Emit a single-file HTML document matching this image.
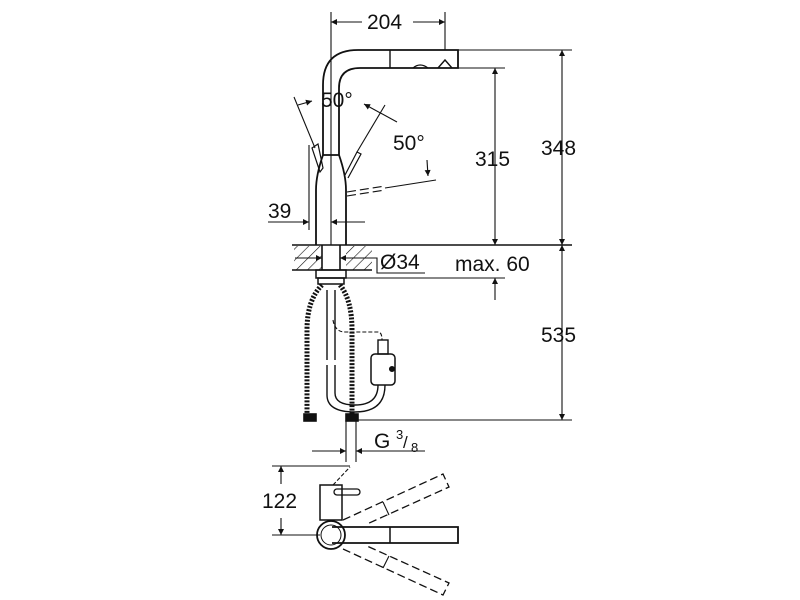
<!DOCTYPE html>
<html><head><meta charset="utf-8"><style>
html,body{margin:0;padding:0;background:#fff;}
svg{display:block}
text{font-family:"Liberation Sans",sans-serif;fill:#111}
</style></head><body>
<svg width="800" height="600" viewBox="0 0 800 600" xmlns="http://www.w3.org/2000/svg">
<defs>
<marker id="a" viewBox="0 0 10 10" refX="10" refY="5" markerWidth="11" markerHeight="6" orient="auto-start-reverse" markerUnits="userSpaceOnUse"><path d="M0,0 L10,5 L0,10z" fill="#111"/></marker>
<pattern id="h" width="8" height="8" patternUnits="userSpaceOnUse" patternTransform="rotate(45)"><line x1="0" y1="0" x2="0" y2="8" stroke="#111" stroke-width="1.2"/></pattern>
</defs>
<g stroke="#111" stroke-width="1.1" fill="none">
<line x1="331" y1="12" x2="331" y2="245"/>
<line x1="445" y1="12" x2="445" y2="50"/>
<line x1="331" y1="22" x2="362" y2="22" marker-start="url(#a)"/>
<line x1="413" y1="22" x2="445" y2="22" marker-end="url(#a)"/>
<path d="M323,155 L323,85 Q323,50 358,50 L458,50 L458,68 L360,68 Q339,68 339,88 L339,155" stroke-width="1.8"/>
<line x1="390" y1="50" x2="390" y2="68" stroke-width="1.4"/>
<path d="M438,68 L445,60 L452,68" stroke-width="1.4"/>
<path d="M413,68 Q420,62 428,68" stroke-width="1.2"/>
<line x1="458" y1="50" x2="572" y2="50"/>
<line x1="445" y1="68" x2="505" y2="68"/>
<path d="M323,155 L339,155 M323,155 Q316,175 316,190 L316,245 M339,155 Q346,175 346,190 L346,245" stroke-width="1.8"/>
<path d="M312,148 L318,144 L323,168 L320,172z" stroke-width="1.2"/>
<line x1="294" y1="97" x2="315" y2="148"/>
<path d="M345,175 L357,152 L361,154 L348,178" stroke-width="1.2"/>
<line x1="357" y1="152" x2="385" y2="105"/>
<path d="M347,192 L385,186 M347,196 L385,190" stroke-dasharray="9,4"/>
<line x1="385" y1="188" x2="436" y2="180"/>
<line x1="298" y1="105" x2="312" y2="101" marker-end="url(#a)"/>
<line x1="364" y1="104" x2="397" y2="122" marker-start="url(#a)"/>
<line x1="427" y1="160" x2="428" y2="176" marker-end="url(#a)"/>
<line x1="309" y1="145" x2="309" y2="230"/>
<line x1="268" y1="222" x2="309" y2="222" marker-end="url(#a)"/>
<line x1="331" y1="222" x2="365" y2="222" marker-start="url(#a)"/>
<line x1="495" y1="68" x2="495" y2="245" marker-start="url(#a)" marker-end="url(#a)"/>
<line x1="562" y1="50" x2="562" y2="245" marker-start="url(#a)" marker-end="url(#a)"/>
<line x1="562" y1="245" x2="562" y2="420" marker-start="url(#a)" marker-end="url(#a)"/>
<line x1="292" y1="245" x2="572" y2="245" stroke-width="1.4"/>
<rect x="294" y="246" width="28" height="24" fill="url(#h)" stroke="none"/>
<rect x="346" y="246" width="26" height="24" fill="url(#h)" stroke="none"/>
<line x1="292" y1="270" x2="372" y2="270" stroke-width="1.4"/>
<line x1="322" y1="245" x2="322" y2="270" stroke-width="1.6"/>
<line x1="340" y1="245" x2="340" y2="270" stroke-width="1.6"/>
<line x1="295" y1="258" x2="322" y2="258" marker-end="url(#a)"/>
<line x1="340" y1="258" x2="372" y2="258" marker-start="url(#a)"/>
<path d="M372,258 L377,258 L377,273 L425,273"/>
<line x1="346" y1="278" x2="505" y2="278"/>
<line x1="495" y1="300" x2="495" y2="278" marker-end="url(#a)"/>
<rect x="316" y="270" width="30" height="8" stroke-width="1.5"/>
<rect x="318" y="278" width="26" height="6" stroke-width="1.5"/>
<path d="M322,285 Q307,300 307,330 L307,415" stroke-width="5" stroke-dasharray="2,1.5"/>
<path d="M340,285 Q352,300 352,330 L352,415" stroke-width="5" stroke-dasharray="2,1.5"/>
<rect x="304" y="414" width="12" height="7" stroke-width="1.6" fill="#111"/>
<rect x="346" y="414" width="12" height="7" stroke-width="1.6" fill="#111"/>
<path d="M327,290 L327,360 M335,290 L335,360 M327,365 L327,395 Q327,412 355,412 Q385,412 385,385 M335,365 L335,393 Q335,405 355,405 Q378,405 378,385" stroke-width="1.4"/>
<path d="M333,320 Q335,332 345,332 L378,332 Q382,332 382,340" stroke-dasharray="4,2"/>
<rect x="378" y="340" width="10" height="14" stroke-width="1.4"/>
<rect x="371" y="354" width="24" height="31" rx="4" stroke-width="1.5"/>
<circle cx="392" cy="369" r="2.5" fill="#111"/>
<line x1="356" y1="420" x2="572" y2="420"/>
<line x1="346" y1="420" x2="346" y2="462"/>
<line x1="356" y1="420" x2="356" y2="462"/>
<line x1="312" y1="451" x2="346" y2="451" marker-end="url(#a)"/>
<line x1="356" y1="451" x2="425" y2="451" marker-start="url(#a)"/>
<line x1="272" y1="466" x2="350" y2="466"/>
<line x1="272" y1="535" x2="320" y2="535"/>
<line x1="281" y1="466" x2="281" y2="484" marker-start="url(#a)"/>
<line x1="281" y1="518" x2="281" y2="535" marker-end="url(#a)"/>
<rect x="320" y="485" width="22" height="35" stroke-width="1.5"/>
<rect x="334" y="489" width="26" height="6" rx="3" stroke-width="1.3"/>
<path d="M333,485 L350,467" stroke-dasharray="4,2"/>
<path d="M332,527 L458,527 L458,543 L332,543" stroke-width="1.8"/>
<line x1="390" y1="527" x2="390" y2="543" stroke-width="1.5"/>
<circle cx="331" cy="535" r="14" stroke-width="1.8"/>
<circle cx="331" cy="535" r="10" stroke-width="1"/>
<path d="M343,520 L443,474 L449,487 L367,524" stroke-dasharray="8,4" stroke-width="1.3"/>
<line x1="383" y1="502" x2="389" y2="515"/>
<path d="M343,549 L443,595 L449,583 L367,546" stroke-dasharray="8,4" stroke-width="1.3"/>
<line x1="383" y1="568" x2="389" y2="556"/>
</g>
<g font-size="21">
<text x="367" y="29">204</text>
<text x="321" y="107">50°</text>
<text x="393" y="150">50°</text>
<text x="475" y="166">315</text>
<text x="541" y="155">348</text>
<text x="268" y="218">39</text>
<text x="380" y="269">Ø34</text>
<text x="455" y="271">max. 60</text>
<text x="541" y="342">535</text>
<text x="374" y="448">G</text>
<text x="396" y="439" font-size="13">3</text>
<text x="403" y="448" font-size="17">/</text>
<text x="411" y="452" font-size="13">8</text>
<text x="262" y="508">122</text>
</g>
</svg>
</body></html>
